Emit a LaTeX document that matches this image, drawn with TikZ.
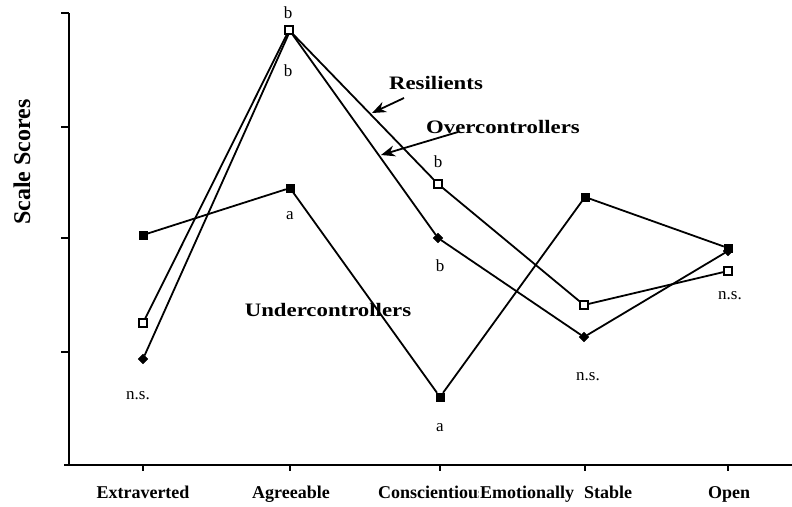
\documentclass[tikz,border=0pt]{standalone}
\usepackage{fontspec}
\setmainfont{Liberation Serif}
\newfontfamily\widefont[FakeStretch=1.2]{Liberation Serif}
\usepackage{tikz}
\usetikzlibrary{arrows.meta,positioning,shapes.geometric}
\tikzset{
  usq/.style={draw, fill=black, minimum size=8pt, inner sep=0pt},
  osq/.style={draw, fill=white, line width=1.2pt, minimum size=8pt, inner sep=0pt},
  dmd/.style={diamond, draw, fill=black, minimum size=10pt, inner sep=0pt},
  pline/.style={line width=1.8pt},
  axline/.style={line width=1.8pt},
  grp/.style={font=\widefont\bfseries\fontsize{19}{19}\selectfont, anchor=base},
  cat/.style={font=\bfseries\fontsize{18}{18}\selectfont, anchor=base, inner sep=1pt},
  sig/.style={font=\fontsize{17}{17}\selectfont},
  ar/.style={-{Stealth[length=14pt,width=11pt]}, line width=1.8pt},
}
\begin{document}
\begin{tikzpicture}[x=1pt, y=-1pt]
    \useasboundingbox (0,0) rectangle (792,506);
    % axes
    \draw[axline] (69,13) -- (69,465);
    \draw[axline] (64,465) -- (792,465);
    \foreach \y in {13,127,238,352}
      \draw[axline] (61,\y) -- (69,\y);
    \foreach \x in {143,290,440,585,728}
      \draw[axline] (\x,465) -- (\x,471);
    \node[font=\bfseries\fontsize{24}{24}\selectfont, rotate=90] (ytitle) at (22,162) {Scale Scores};

    % Undercontrollers
    \node[usq] (u1) at (143,235) {};
    \node[usq] (u2) at (290,188) {};
    \node[usq] (u3) at (440,397) {};
    \node[usq] (u4) at (585,197) {};
    \node[usq] (u5) at (728,248) {};
    \draw[pline] (u1) -- (u2) -- (u3) -- (u4) -- (u5);

    % Overcontrollers
    \node[dmd] (o1) at (143,359) {};
    \coordinate (o2) at (290,31);
    \node[dmd] (o3) at (438,238) {};
    \node[dmd] (o4) at (584,337) {};
    \node[dmd] (o5) at (728,251) {};
    \draw[pline] (o1) -- (o2) -- (o3) -- (o4) -- (o5);

    % Resilients
    \node[osq] (r1) at (143,323) {};
    \node[osq] (r2) at (289,30) {};
    \node[osq] (r3) at (438,184) {};
    \node[osq] (r4) at (584,305) {};
    \node[osq] (r5) at (728,271) {};
    \draw[pline] (r1) -- (r2) -- (r3) -- (r4) -- (r5);

    % significance letters
    \node[sig] (s1) at (288,13) {b};
    \node[sig] (s2) at (288,71) {b};
    \node[sig] (s3) at (290,216) {a};
    \node[sig] (s4) at (438,162) {b};
    \node[sig] (s5) at (440,266) {b};
    \node[sig] (s6) at (440,428) {a};
    \node[sig] (s7) at (138,396) {n.s.};
    \node[sig] (s8) at (588,377) {n.s.};
    \node[sig] (s9) at (730,296) {n.s.};

    % group labels
    \node[grp] (res) at (436,89) {Resilients};
    \node[grp] (over) at (503,133) {Overcontrollers};
    \node[grp] (under) at (328,316) {Undercontrollers};
    \coordinate (resFrom) at (404,98);
    \coordinate (resTip) at (372,113);
    \coordinate (overFrom) at (458,132);
    \coordinate (overTip) at (381,155);
    \draw[ar] (resFrom) -- (resTip);
    \draw[ar] (overFrom) -- (overTip);

    % categories
    \node[cat] (c1) at (143,498) {Extraverted};
    \node[cat] (c2) at (291,498) {Agreeable};
    \node[cat, anchor=base west] (c3) at (377,498) {Conscientious};
    \node[cat, anchor=base west, fill=white] (c4) at (479,498) {Emotionally};
    \node[cat] (c5) at (608,498) {Stable};
    \node[cat] (c6) at (729,498) {Open};
\end{tikzpicture}
\end{document}
